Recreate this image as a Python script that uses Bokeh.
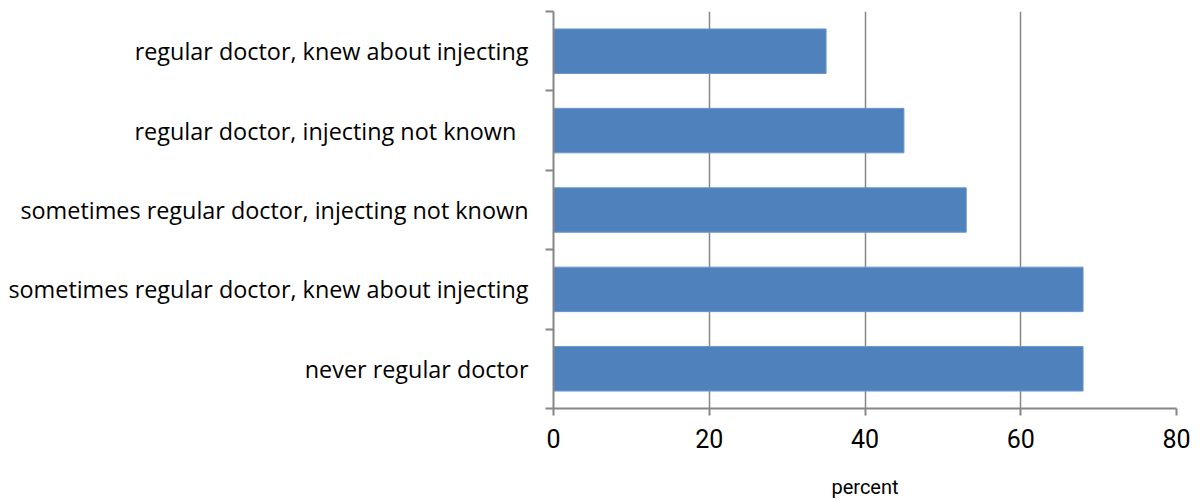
from bokeh.plotting import figure
from bokeh.models import FixedTicker, Range1d
from bokeh.embed import file_html
from bokeh.resources import INLINE

categories = [
    "never regular doctor",
    "sometimes regular doctor, knew about injecting",
    "sometimes regular doctor, injecting not known",
    "regular doctor, injecting not known\u00a0\u00a0",
    "regular doctor, knew about injecting",
]
values = [68, 68, 53, 45, 35]
x_ticks = [0, 20, 40, 60, 80]

centers = [i + 0.5 for i in range(len(categories))]

p = figure(width=1201, height=501, output_backend="svg", toolbar_location=None,
           x_range=Range1d(0, 80), y_range=Range1d(0, len(categories)),
           min_border_left=553, min_border_right=25, min_border_top=11, min_border_bottom=90)
p.outline_line_color = None
p.background_fill_color = "white"

p.hbar(y=centers, right=values, left=0, height=0.56, fill_color="#4F81BD", line_color="#6A96CC", line_width=1)

# x axis
xa = p.xaxis[0]
xa.ticker = FixedTicker(ticks=x_ticks, minor_ticks=[])
xa.axis_line_color = "#868686"
xa.axis_line_width = 2
xa.major_tick_line_color = "#868686"
xa.major_tick_line_width = 2
xa.major_tick_out = 7
xa.major_tick_in = 0
xa.major_label_text_font = "Roboto"
xa.major_label_text_font_size = "25px"
xa.major_label_text_color = "black"
xa.major_label_standoff = 13
xa.axis_label = "percent"
xa.axis_label_text_font = "Roboto"
xa.axis_label_text_font_size = "20px"
xa.axis_label_text_font_style = "normal"
xa.axis_label_text_color = "black"
xa.axis_label_standoff = 24

# y axis
ya = p.yaxis[0]
ya.ticker = FixedTicker(ticks=centers, minor_ticks=list(range(len(categories) + 1)))
ya.major_label_overrides = {c: lab for c, lab in zip(centers, categories)}
ya.axis_line_color = "#868686"
ya.axis_line_width = 2
ya.major_tick_out = 0
ya.major_tick_in = 0
ya.major_tick_line_color = None
ya.minor_tick_line_color = "#868686"
ya.minor_tick_line_width = 2
ya.minor_tick_out = 8
ya.minor_tick_in = 0
ya.major_label_text_font = "Open Sans"
ya.major_label_text_font_size = "23.4px"
ya.major_label_text_color = "black"
ya.major_label_standoff = 17

p.xgrid.ticker = FixedTicker(ticks=x_ticks)
p.xgrid.grid_line_color = "#868686"
p.xgrid.grid_line_width = 1.5
p.ygrid.grid_line_color = None

open("out.html", "w").write(file_html(p, INLINE))
